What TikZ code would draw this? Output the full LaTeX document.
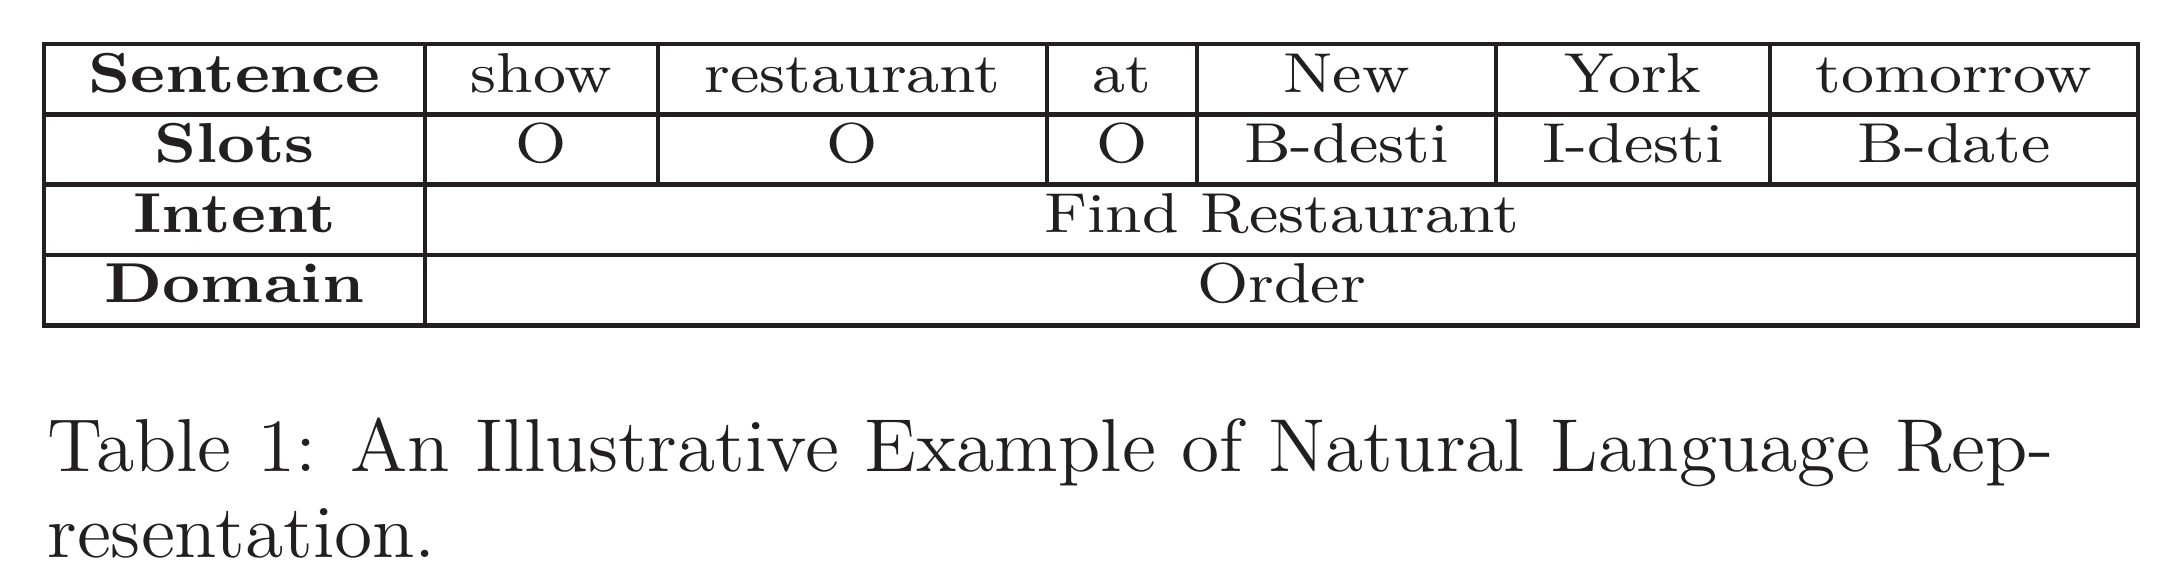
\documentclass[tikz,border=0pt]{standalone}
\usepackage{amsmath,amssymb}
\usepackage{xcolor}
\usepackage{tikz}
\usepackage{tkz-euclide}

\definecolor{ink}{RGB}{35,31,32}
\tikzset{cell/.style={inner sep=0pt,anchor=base,font=\small,text=ink,xscale=1.14,transform shape},
  capline/.style={inner sep=0pt,anchor=base west,font=\large,text=ink,xscale=1.04,transform shape},
  rule/.style={color=ink,line width=0.68pt,line cap=rect}}

\begin{document}
\begin{tikzpicture}[x=0.16pt,y=0.16pt]
\useasboundingbox (0,0) rectangle (2177,570);
\tkzDefPoint(44,526){TL}
\tkzDefPoint(2138,526){TR}
\tkzDefPoint(44,455.5){SL}
\tkzDefPoint(2138,455.5){SR}
\tkzDefPoint(44,385.5){IL}
\tkzDefPoint(2138,385.5){IR}
\tkzDefPoint(44,315){DL}
\tkzDefPoint(2138,315){DR}
\tkzDefPoint(44,244.5){BL}
\tkzDefPoint(2138,244.5){BR}
\tkzDefPoint(425,526){HT}
\tkzDefPoint(425,244.5){HB}
\tkzDefPoint(658,526){AT}
\tkzDefPoint(658,385.5){AB}
\tkzDefPoint(1047,526){BT}
\tkzDefPoint(1047,385.5){BB}
\tkzDefPoint(1197,526){CT}
\tkzDefPoint(1197,385.5){CB}
\tkzDefPoint(1496,526){ET}
\tkzDefPoint(1496,385.5){EB}
\tkzDefPoint(1770,526){FT}
\tkzDefPoint(1770,385.5){FB}
\tkzDrawSegments[rule](TL,TR SL,SR IL,IR DL,DR BL,BR TL,BL TR,BR)
\tkzDrawSegments[rule](HT,HB AT,AB BT,BB CT,CB ET,EB FT,FB)
% header column
\node[cell] (sent) at (234.5,477) {\textbf{Sentence}};
\node[cell] (slots) at (234.5,407) {\textbf{Slots}};
\node[cell] (intent) at (234.5,337) {\textbf{Intent}};
\node[cell] (domain) at (234.5,267) {\textbf{Domain}};
% words and slots
\node[cell] (w1) at (541.5,477) {show};
\node[cell] (w2) at (852.5,477) {restaurant};
\node[cell] (w3) at (1122,477) {at};
\node[cell] (w4) at (1346.5,477) {New};
\node[cell] (w5) at (1633,477) {York};
\node[cell] (w6) at (1954,477) {tomorrow};
\node[cell] (s1) at (541.5,407) {O};
\node[cell] (s2) at (852.5,407) {O};
\node[cell] (s3) at (1122,407) {O};
\node[cell] (s4) at (1346.5,407) {B-desti};
\node[cell] (s5) at (1633,407) {I-desti};
\node[cell] (s6) at (1954,407) {B-date};
\node[cell] (find) at (1281.5,337) {Find Restaurant};
\node[cell] (order) at (1281.5,267) {Order};
% caption
\node[capline] (cap1) at (46,98) {Table 1: An Illustrative Example of Natural Language Rep-};
\node[capline] (cap2) at (46,12) {resentation.};
\end{tikzpicture}
\end{document}
